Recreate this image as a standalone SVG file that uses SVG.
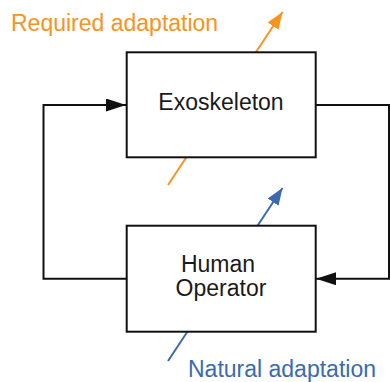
<svg xmlns="http://www.w3.org/2000/svg" width="390" height="382" viewBox="0 0 390 382">
<defs>
<style>
.box{fill:#fff;stroke:#111;stroke-width:2}
.lbl{font-family:"Liberation Sans",Arial,sans-serif;font-size:23px;fill:#1a1a1a;text-anchor:middle}
.wire{fill:none;stroke:#111;stroke-width:2}
.ann{font-family:"Liberation Sans",Arial,sans-serif;font-size:23px}
</style>
<marker id="ah" viewBox="0 0 20 13" refX="20" refY="6.5" markerWidth="20" markerHeight="13" markerUnits="userSpaceOnUse" orient="auto"><path d="M0,0L20,6.5L0,13z" fill="#111"/></marker>
<marker id="ao" viewBox="0 0 17 13" refX="17" refY="6.5" markerWidth="17" markerHeight="13" markerUnits="userSpaceOnUse" orient="auto"><path d="M0,0L17,6.5L0,13z" fill="#F7941D"/></marker>
<marker id="ab" viewBox="0 0 17 13" refX="17" refY="6.5" markerWidth="17" markerHeight="13" markerUnits="userSpaceOnUse" orient="auto"><path d="M0,0L17,6.5L0,13z" fill="#3B6BAE"/></marker>
</defs>
<rect width="390" height="382" fill="#fff"/>
<g id="connectors">
<path class="wire" d="M126.7,278.7H43.5V105H126" marker-end="url(#ah)"/>
<path class="wire" d="M315.7,105H389V278.7H316" marker-end="url(#ah)"/>
<line x1="168" y1="185" x2="282.5" y2="12" stroke="#F7941D" stroke-width="2" marker-end="url(#ao)"/>
<line x1="168" y1="361" x2="282.5" y2="188" stroke="#3B6BAE" stroke-width="2" marker-end="url(#ab)"/>
</g>
<g id="exoskeleton">
<rect class="box" x="126.7" y="52.3" width="189" height="105"/>
<text class="lbl" x="221" y="110" font-size="22.5">Exoskeleton</text>
</g>
<g id="human-operator">
<rect class="box" x="126.7" y="225.7" width="189" height="106"/>
<text class="lbl" x="218" y="271.7">Human</text>
<text class="lbl" x="221" y="295.7">Operator</text>
</g>
<text class="ann" x="11" y="31" fill="#F7941D">Required adaptation</text>
<text class="ann" x="188" y="376.5" fill="#3B6BAE">Natural adaptation</text>
</svg>
